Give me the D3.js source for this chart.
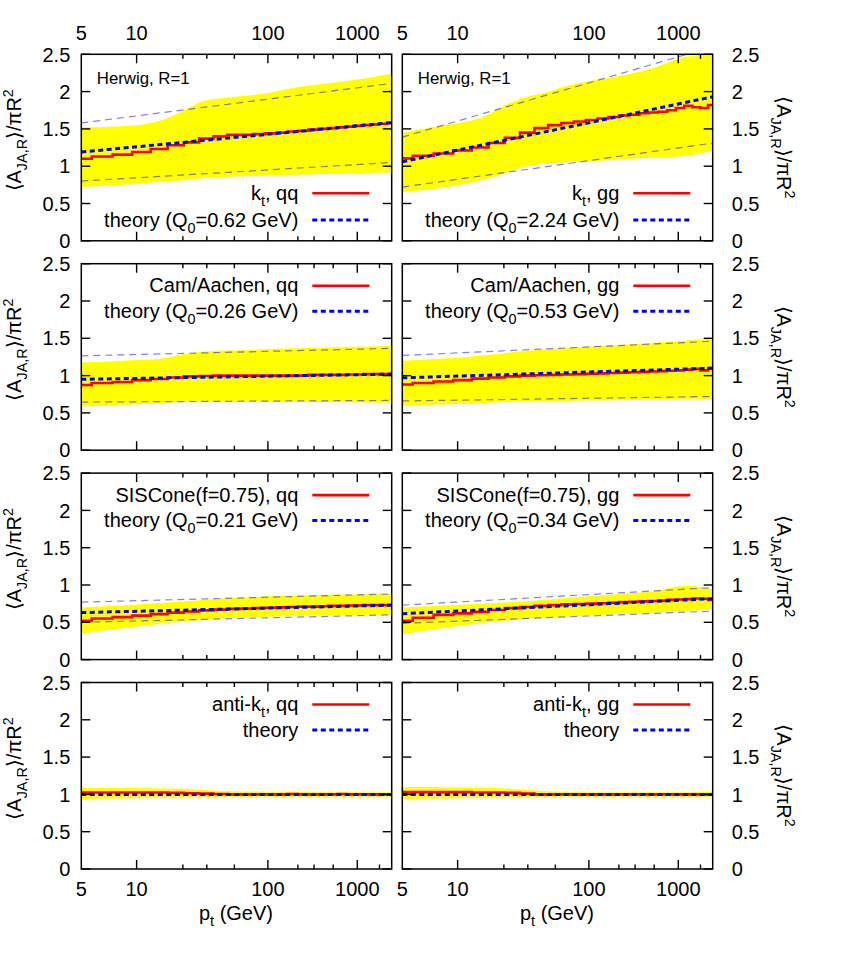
<!DOCTYPE html>
<html><head><meta charset="utf-8">
<script src="https://cdn.jsdelivr.net/npm/d3@7"></script>
<style>body{margin:0;background:#fff}</style>
</head><body>
<svg id="chart" width="845" height="953"></svg>
<script>
// ---------------- DATA ----------------
const ptEdges = [5, 5.64, 7.28, 9.41, 12.2, 15.7, 20.3, 26.2, 33.8, 43.6, 56.2, 72.6, 93.6, 121, 156, 201, 259, 335, 432, 557, 719, 928, 1197, 1545, 1994, 2573, 3000];
const bandPt = [5, 7, 10, 14, 20, 28, 40, 60, 100, 200, 500, 1300, 3000];
const theoryPt = [5, 3000];
const xMajorTicks = [10, 100, 1000];
const xMinorTicks = [20, 30, 50, 200, 300, 500, 2000];
const xTickLabels = [5, 10, 100, 1000];
const yTicks = [0, 0.5, 1, 1.5, 2, 2.5];

// kt, qq
const ktQQ = [1.10, 1.13, 1.155, 1.19, 1.23, 1.28, 1.32, 1.37, 1.40, 1.42, 1.42, 1.43, 1.44, 1.45, 1.465, 1.475, 1.49, 1.50, 1.51, 1.52, 1.53, 1.54, 1.55, 1.56, 1.57, 1.58];
const ktQQUp = [1.52, 1.53, 1.55, 1.61, 1.74, 1.87, 1.91, 1.94, 1.98, 2.06, 2.12, 2.18, 2.24];
const ktQQLo = [0.72, 0.74, 0.765, 0.79, 0.81, 0.84, 0.855, 0.865, 0.875, 0.885, 0.90, 0.91, 0.92];
const ktQQTh = [1.19, 1.585], ktQQThUp = [1.58, 2.11], ktQQThLo = [0.80, 1.05];
// kt, gg
const ktGG = [1.105, 1.14, 1.17, 1.21, 1.25, 1.31, 1.38, 1.45, 1.51, 1.55, 1.58, 1.60, 1.62, 1.64, 1.66, 1.68, 1.69, 1.71, 1.72, 1.73, 1.75, 1.78, 1.81, 1.79, 1.78, 1.82];
const ktGGUp = [1.45, 1.52, 1.58, 1.65, 1.81, 1.92, 1.98, 2.07, 2.14, 2.21, 2.32, 2.47, 2.49];
const ktGGLo = [0.655, 0.69, 0.745, 0.81, 0.90, 0.99, 1.03, 1.05, 1.066, 1.09, 1.115, 1.14, 1.21];
const ktGGTh = [1.06, 1.93], ktGGThUp = [1.39, 2.60], ktGGThLo = [0.72, 1.31];
// Cam/Aachen, qq
const camQQ = [0.875, 0.90, 0.915, 0.94, 0.955, 0.975, 0.99, 0.995, 1.0, 1.0, 1.0, 1.0, 1.0, 1.0, 1.0, 1.0, 1.01, 1.01, 1.01, 1.01, 1.015, 1.015, 1.02, 1.02, 1.02, 1.02];
const camQQUp = [1.175, 1.19, 1.21, 1.225, 1.285, 1.32, 1.335, 1.34, 1.355, 1.365, 1.38, 1.39, 1.40];
const camQQLo = [0.59, 0.60, 0.615, 0.63, 0.645, 0.65, 0.65, 0.65, 0.65, 0.65, 0.645, 0.64, 0.635];
const camQQTh = [0.95, 1.02], camQQThUp = [1.265, 1.365], camQQThLo = [0.645, 0.667];
// Cam/Aachen, gg
const camGG = [0.88, 0.90, 0.92, 0.94, 0.96, 0.975, 0.99, 1.0, 1.005, 1.01, 1.015, 1.02, 1.025, 1.03, 1.035, 1.04, 1.045, 1.05, 1.055, 1.06, 1.065, 1.07, 1.08, 1.09, 1.07, 1.10];
const camGGUp = [1.20, 1.22, 1.24, 1.27, 1.30, 1.33, 1.35, 1.37, 1.39, 1.41, 1.44, 1.47, 1.50];
const camGGLo = [0.60, 0.61, 0.62, 0.63, 0.645, 0.65, 0.655, 0.66, 0.665, 0.67, 0.68, 0.69, 0.68];
const camGGTh = [0.97, 1.10], camGGThUp = [1.27, 1.46], camGGThLo = [0.66, 0.72];
// SISCone, qq
const sisQQ = [0.52, 0.55, 0.57, 0.59, 0.61, 0.63, 0.645, 0.66, 0.67, 0.68, 0.685, 0.69, 0.695, 0.70, 0.705, 0.71, 0.71, 0.715, 0.72, 0.72, 0.725, 0.725, 0.73, 0.73, 0.73, 0.73];
const sisQQUp = [0.70, 0.72, 0.74, 0.76, 0.78, 0.80, 0.82, 0.83, 0.85, 0.86, 0.87, 0.875, 0.88];
const sisQQLo = [0.35, 0.40, 0.44, 0.48, 0.51, 0.53, 0.55, 0.56, 0.575, 0.585, 0.59, 0.60, 0.60];
const sisQQTh = [0.63, 0.73], sisQQThUp = [0.77, 0.88], sisQQThLo = [0.50, 0.60];
// SISCone, gg
const sisGG = [0.52, 0.56, 0.60, 0.62, 0.64, 0.665, 0.69, 0.705, 0.72, 0.73, 0.74, 0.745, 0.75, 0.755, 0.76, 0.77, 0.775, 0.78, 0.785, 0.79, 0.80, 0.805, 0.81, 0.82, 0.815, 0.80];
const sisGGUp = [0.70, 0.715, 0.735, 0.75, 0.765, 0.78, 0.80, 0.825, 0.85, 0.88, 0.92, 0.99, 0.94];
const sisGGLo = [0.34, 0.40, 0.45, 0.49, 0.52, 0.545, 0.56, 0.575, 0.59, 0.61, 0.63, 0.65, 0.67];
const sisGGTh = [0.615, 0.817], sisGGThUp = [0.73, 0.965], sisGGThLo = [0.486, 0.65];
// anti-kt, qq
const akQQ = [1.025, 1.025, 1.025, 1.025, 1.025, 1.02, 1.015, 1.01, 1.005, 1.0, 1.0, 1.0, 1.0, 1.0, 1.005, 1.0, 1.0, 1.0, 1.0, 1.005, 1.0, 1.0, 1.0, 1.0, 1.0, 1.0];
const akQQUp = [1.09, 1.085, 1.085, 1.08, 1.075, 1.06, 1.045, 1.04, 1.035, 1.035, 1.03, 1.03, 1.03];
const akQQLo = [0.94, 0.945, 0.95, 0.955, 0.96, 0.965, 0.97, 0.97, 0.97, 0.97, 0.97, 0.97, 0.97];
const akQQTh = [1.0, 1.0];
// anti-kt, gg
const akGG = [1.03, 1.03, 1.03, 1.03, 1.025, 1.025, 1.02, 1.01, 1.0, 1.0, 1.0, 1.0, 1.0, 1.0, 1.0, 1.0, 1.0, 1.0, 1.0, 1.0, 1.0, 1.0, 1.0, 1.0, 1.0, 1.0];
const akGGUp = [1.10, 1.10, 1.095, 1.09, 1.08, 1.065, 1.045, 1.035, 1.03, 1.03, 1.03, 1.03, 1.035];
const akGGLo = [0.94, 0.945, 0.95, 0.955, 0.96, 0.965, 0.97, 0.97, 0.97, 0.97, 0.97, 0.97, 0.97];
const akGGTh = [1.0, 1.0];

const legendMain = ["k_{t}, qq", "k_{t}, gg", "Cam/Aachen, qq", "Cam/Aachen, gg", "SISCone(f=0.75), qq", "SISCone(f=0.75), gg", "anti-k_{t}, qq", "anti-k_{t}, gg"];
const legendTheory = ["theory (Q_{0}=0.62 GeV)", "theory (Q_{0}=2.24 GeV)", "theory (Q_{0}=0.26 GeV)", "theory (Q_{0}=0.53 GeV)", "theory (Q_{0}=0.21 GeV)", "theory (Q_{0}=0.34 GeV)", "theory", "theory"];
const yTitle = "⟨A_{JA,R}⟩/πR^{2}";
const xTitle = "p_{t} (GeV)";
const noteText = "Herwig, R=1";

const panels = [
  {red: ktQQ, up: ktQQUp, lo: ktQQLo, th: ktQQTh, thUp: ktQQThUp, thLo: ktQQThLo},
  {red: ktGG, up: ktGGUp, lo: ktGGLo, th: ktGGTh, thUp: ktGGThUp, thLo: ktGGThLo},
  {red: camQQ, up: camQQUp, lo: camQQLo, th: camQQTh, thUp: camQQThUp, thLo: camQQThLo},
  {red: camGG, up: camGGUp, lo: camGGLo, th: camGGTh, thUp: camGGThUp, thLo: camGGThLo},
  {red: sisQQ, up: sisQQUp, lo: sisQQLo, th: sisQQTh, thUp: sisQQThUp, thLo: sisQQThLo},
  {red: sisGG, up: sisGGUp, lo: sisGGLo, th: sisGGTh, thUp: sisGGThUp, thLo: sisGGThLo},
  {red: akQQ, up: akQQUp, lo: akQQLo, th: akQQTh},
  {red: akGG, up: akGGUp, lo: akGGLo, th: akGGTh}
];

// ---------------- LAYOUT ----------------
const FONT = "'Liberation Sans', Arial, Helvetica, sans-serif";
const W = 310.4, H = 186.5;
const colX = [81.3, 402.3];
const rowY = [54.3, 263.7, 473.1, 682.5];
const LAMBDA = 0.2;
const lnln = p => Math.log(Math.log(p / LAMBDA));
const xu = d3.scaleLinear().domain([lnln(5), lnln(3000)]).range([0, W]);
const x = p => xu(lnln(p));
const y = d3.scaleLinear().domain([0, 2.5]).range([H, 0]);

const svg = d3.select("#chart").style("font-family", FONT);
svg.append("rect").attr("width", 845).attr("height", 953).attr("fill", "#fff");

// rich text with _{sub} and ^{sup}
function rich(textSel, str, fs) {
  const re = /([_^])\{([^}]*)\}/g;
  let last = 0, m, shift = 0;
  const parts = [];
  while ((m = re.exec(str)) !== null) {
    if (m.index > last) parts.push({t: str.slice(last, m.index), k: ""});
    parts.push({t: m[2], k: m[1]});
    last = re.lastIndex;
  }
  if (last < str.length) parts.push({t: str.slice(last), k: ""});
  parts.forEach(p => {
    const ts = textSel.append("tspan").text(p.t);
    let target = 0;
    if (p.k === "_") { target = fs * 0.3; ts.attr("font-size", fs * 0.72); }
    else if (p.k === "^") { target = -fs * 0.42; ts.attr("font-size", fs * 0.72); }
    const dy = target - shift;
    if (dy !== 0) ts.attr("dy", dy);
    shift = target;
  });
}

const lineTh = d3.line().x(d => x(d[0])).y(d => y(d[1]));
const area = d3.area().x(d => x(d.p)).y0(d => y(d.lo)).y1(d => y(d.up)).curve(d3.curveMonotoneX);
const stepLine = d3.line().x(d => x(d[0])).y(d => y(d[1])).curve(d3.curveStepAfter);

panels.forEach((P, i) => {
  const col = i % 2, row = Math.floor(i / 2);
  const g = svg.append("g").attr("transform", `translate(${colX[col]},${rowY[row]})`);
  const clipId = "clip" + i;
  g.append("clipPath").attr("id", clipId).append("rect").attr("width", W).attr("height", H);
  const plot = g.append("g").attr("clip-path", `url(#${clipId})`);

  // yellow band
  const bandData = bandPt.map((p, k) => ({p, up: P.up[k], lo: P.lo[k]}));
  plot.append("path").attr("d", area(bandData)).attr("fill", "#ffff00");

  // thin theory band lines
  [P.thUp, P.thLo].forEach(arr => {
    if (!arr) return;
    plot.append("path").attr("d", lineTh(theoryPt.map((p, k) => [p, arr[k]])))
      .attr("fill", "none").attr("stroke", "#0000ff").attr("stroke-opacity", 0.5)
      .attr("stroke-width", 1.2).attr("stroke-dasharray", "7,5");
  });

  // red histogram
  const stepData = ptEdges.map((e, k) => [e, P.red[Math.min(k, P.red.length - 1)]]);
  plot.append("path").attr("d", stepLine(stepData)).attr("fill", "none")
    .attr("stroke", "#ff0000").attr("stroke-width", 2.6);

  // theory central
  plot.append("path").attr("d", lineTh(theoryPt.map((p, k) => [p, P.th[k]])))
    .attr("fill", "none").attr("stroke", "#0000ff").attr("stroke-width", 3)
    .attr("stroke-dasharray", "5,3.5");

  // ticks (mirrored, inward)
  const tk = g.append("g").attr("stroke", "#000").attr("stroke-width", 1.4);
  yTicks.forEach(v => {
    tk.append("line").attr("x1", 0).attr("x2", 9).attr("y1", y(v)).attr("y2", y(v));
    tk.append("line").attr("x1", W - 9).attr("x2", W).attr("y1", y(v)).attr("y2", y(v));
  });
  xMajorTicks.forEach(p => {
    tk.append("line").attr("x1", x(p)).attr("x2", x(p)).attr("y1", H).attr("y2", H - 9);
    tk.append("line").attr("x1", x(p)).attr("x2", x(p)).attr("y1", 0).attr("y2", 9);
  });
  xMinorTicks.forEach(p => {
    tk.append("line").attr("x1", x(p)).attr("x2", x(p)).attr("y1", H).attr("y2", H - 4.5);
    tk.append("line").attr("x1", x(p)).attr("x2", x(p)).attr("y1", 0).attr("y2", 4.5);
  });

  // border
  g.append("rect").attr("width", W).attr("height", H).attr("fill", "none")
    .attr("stroke", "#000").attr("stroke-width", 1.5);

  // legend
  const FS = 20;
  const ly = row === 0 ? [139, 165.7] : [22, 47.5];
  const labels = [legendMain[i], legendTheory[i]];
  labels.forEach((lab, k) => {
    const t = g.append("text").attr("x", 217).attr("y", ly[k] + 6.7)
      .attr("text-anchor", "end").attr("font-size", FS).attr("fill", "#000");
    rich(t, lab, FS);
    const ln = g.append("line").attr("x1", 231).attr("x2", 288).attr("y1", ly[k]).attr("y2", ly[k]);
    if (k === 0) ln.attr("stroke", "#ff0000").attr("stroke-width", 2.6);
    else ln.attr("stroke", "#0000ff").attr("stroke-width", 3).attr("stroke-dasharray", "5,3.5");
  });

  if (row === 0) {
    g.append("text").attr("x", 15.5).attr("y", 30).attr("font-size", 16.8).text(noteText);
  }

  // y tick labels
  yTicks.forEach(v => {
    const t = g.append("text").attr("font-size", FS).attr("y", y(v)).attr("dy", "0.36em")
      .text(String(v));
    if (col === 0) t.attr("x", -11).attr("text-anchor", "end");
    else t.attr("x", W + 19).attr("text-anchor", "start");
  });

  // y title
  if (col === 0) {
    const t = g.append("text").attr("font-size", FS).attr("text-anchor", "middle")
      .attr("transform", `translate(${21 - colX[0]},${86}) rotate(-90)`);
    rich(t, yTitle, FS);
  } else {
    const t = g.append("text").attr("font-size", FS).attr("text-anchor", "middle")
      .attr("transform", `translate(${777 - colX[1]},${93}) rotate(90)`);
    rich(t, yTitle, FS);
  }

  // x tick labels
  if (row === 0 || row === 3) {
    xTickLabels.forEach(p => {
      g.append("text").attr("font-size", FS).attr("text-anchor", "middle")
        .attr("x", x(p)).attr("y", row === 0 ? -14.3 : H + 26.5).text(String(p));
    });
  }
  if (row === 3) {
    const t = g.append("text").attr("font-size", FS).attr("text-anchor", "middle")
      .attr("x", W / 2 - 0.5).attr("y", H + 50.5);
    rich(t, xTitle, FS);
  }
});
</script>
</body></html>
